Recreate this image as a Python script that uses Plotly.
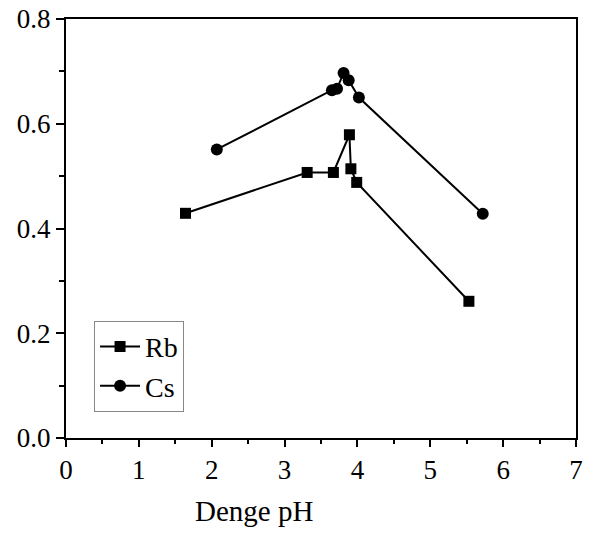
import plotly.graph_objects as go

rb_ph = [1.64, 3.31, 3.67, 3.89, 3.91, 3.99, 5.53]
rb_val = [0.429, 0.507, 0.507, 0.579, 0.514, 0.488, 0.261]
cs_ph = [2.07, 3.65, 3.72, 3.81, 3.88, 4.02, 5.72]
cs_val = [0.551, 0.664, 0.667, 0.697, 0.683, 0.650, 0.428]

x_ticks = [0, 1, 2, 3, 4, 5, 6, 7]
y_ticks = [0.0, 0.2, 0.4, 0.6, 0.8]

FONT = "Liberation Serif, Times New Roman, serif"

fig = go.Figure()
fig.add_trace(go.Scatter(
    x=rb_ph, y=rb_val, name="Rb", mode="lines+markers",
    line=dict(color="black", width=2),
    marker=dict(symbol="square", size=11, color="black"),
))
fig.add_trace(go.Scatter(
    x=cs_ph, y=cs_val, name="Cs", mode="lines+markers",
    line=dict(color="black", width=2),
    marker=dict(symbol="circle", size=12, color="black"),
))

fig.update_layout(
    width=593, height=533,
    margin=dict(l=66, r=17, t=19, b=95),
    paper_bgcolor="white", plot_bgcolor="white",
    font=dict(family=FONT, color="black", size=24),
    showlegend=True,
    legend=dict(
        x=0.055, y=0.28, xanchor="left", yanchor="top",
        bordercolor="#888888", borderwidth=1, bgcolor="white",
        font=dict(family=FONT, size=28, color="black"),
        itemwidth=40, tracegroupgap=0,
    ),
    xaxis=dict(
        range=[0, 7], tickvals=x_ticks, ticktext=[str(v) for v in x_ticks],
        showgrid=False, zeroline=False, automargin=False,
        ticklabeloverflow="allow",
        showline=True, linecolor="black", linewidth=2, mirror=True,
        ticks="outside", ticklen=7, tickwidth=2, tickcolor="black",
        minor=dict(dtick=0.5, ticks="outside", ticklen=4, tickwidth=2, tickcolor="black"),
        tickfont=dict(family=FONT, size=27, color="black"),
    ),
    yaxis=dict(
        range=[0, 0.8], tickvals=y_ticks, ticktext=[f"{v:.1f}" for v in y_ticks],
        showgrid=False, zeroline=False, automargin=False,
        ticklabeloverflow="allow",
        showline=True, linecolor="black", linewidth=2, mirror=True,
        ticks="outside", ticklen=8, tickwidth=2, tickcolor="black",
        minor=dict(dtick=0.1, ticks="outside", ticklen=5, tickwidth=2, tickcolor="black"),
        tickfont=dict(family=FONT, size=27, color="black"),
    ),
    annotations=[dict(
        text="Denge pH", xref="paper", yref="paper",
        x=0.369, y=-0.174, xanchor="center", yanchor="middle",
        showarrow=False, font=dict(family=FONT, size=29, color="black"),
    )],
)

fig.write_html(
    "out.html",
    config={"displayModeBar": False},
    post_script="document.body.style.margin='0px';",
)
